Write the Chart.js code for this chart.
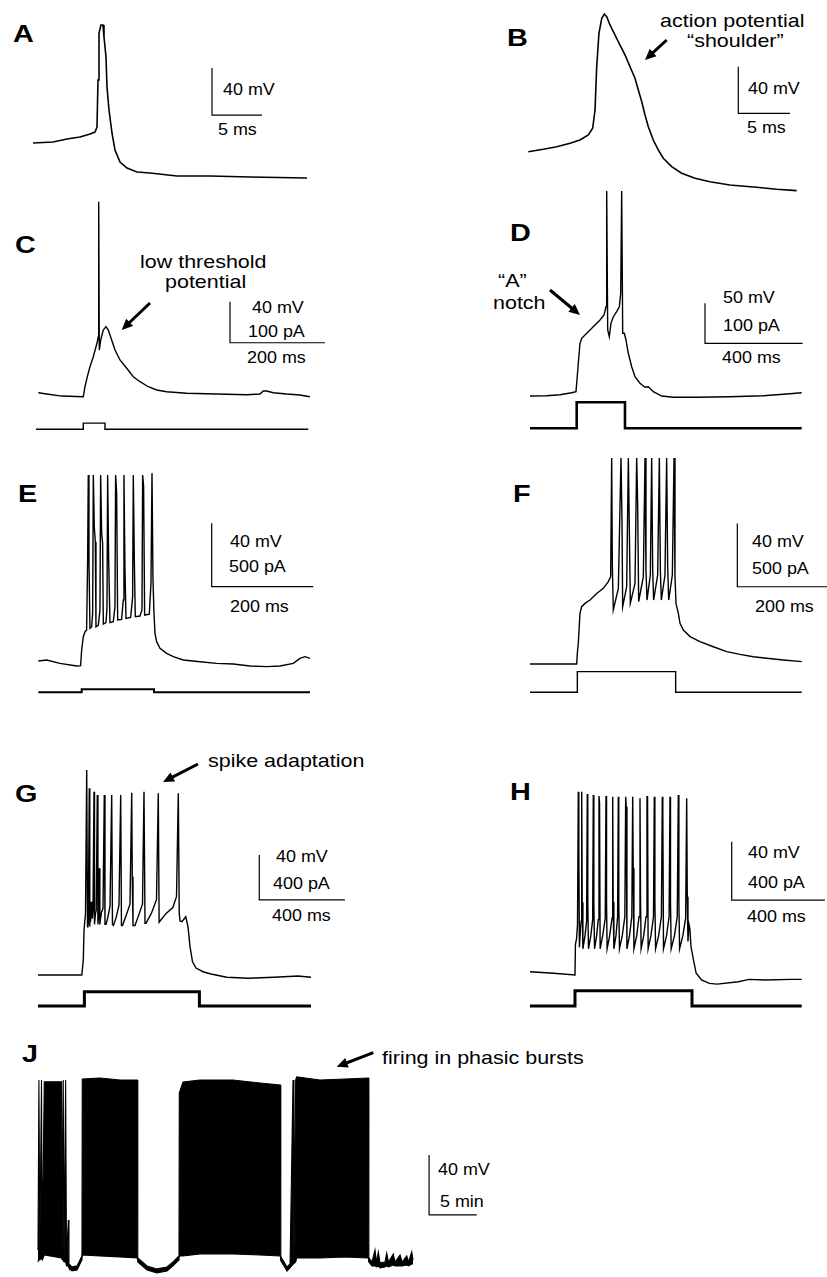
<!DOCTYPE html>
<html><head><meta charset="utf-8">
<script src="https://cdn.jsdelivr.net/npm/chart.js@4.4.0/dist/chart.umd.min.js"></script>
<style>
html,body{margin:0;padding:0;background:#fff;}
#page{position:relative;width:827px;height:1277px;overflow:hidden;background:#fff;}
canvas{position:absolute;}
.t{position:absolute;font-family:"Liberation Sans",Arial,Helvetica,sans-serif;color:#000;white-space:nowrap;transform-origin:0 50%;line-height:1;}
.s{font-size:16px;transform:scaleX(1.12);}
.a{font-size:19px;transform:scaleX(1.13);}
.p{font-size:24px;font-weight:bold;transform:scaleX(1.2);}
#arr{position:absolute;left:0;top:0;}
</style></head><body><div id="page">
<svg id="arr" width="827" height="1277"></svg>
<div class="t p" style="left:13px;top:21.5px">A</div>
<div class="t s" style="left:223px;top:82.2px">40 mV</div>
<div class="t s" style="left:218px;top:122.2px">5 ms</div>
<div class="t p" style="left:507px;top:26.2px">B</div>
<div class="t a" style="left:660px;top:11.2px">action potential</div>
<div class="t a" style="left:687px;top:30.6px">“shoulder”</div>
<div class="t s" style="left:748px;top:81.2px">40 mV</div>
<div class="t s" style="left:747px;top:120.2px">5 ms</div>
<div class="t p" style="left:15px;top:233.2px">C</div>
<div class="t a" style="left:140px;top:252.2px">low threshold</div>
<div class="t a" style="left:165px;top:272.2px">potential</div>
<div class="t s" style="left:252px;top:300.2px">40 mV</div>
<div class="t s" style="left:248px;top:324.2px">100 pA</div>
<div class="t s" style="left:247px;top:350.2px">200 ms</div>
<div class="t p" style="left:510px;top:220.7px">D</div>
<div class="t a" style="left:498px;top:270.6px">“A”</div>
<div class="t a" style="left:493px;top:293.2px">notch</div>
<div class="t s" style="left:723px;top:290.2px">50 mV</div>
<div class="t s" style="left:723px;top:318.2px">100 pA</div>
<div class="t s" style="left:722px;top:350.2px">400 ms</div>
<div class="t p" style="left:18px;top:481.7px">E</div>
<div class="t s" style="left:230px;top:533.9px">40 mV</div>
<div class="t s" style="left:229px;top:558.9px">500 pA</div>
<div class="t s" style="left:230px;top:598.9px">200 ms</div>
<div class="t p" style="left:513px;top:481.7px">F</div>
<div class="t s" style="left:751.7px;top:533.9px">40 mV</div>
<div class="t s" style="left:751.7px;top:560.5px">500 pA</div>
<div class="t s" style="left:755px;top:598.9px">200 ms</div>
<div class="t p" style="left:15px;top:781.7px">G</div>
<div class="t a" style="left:208px;top:751.2px">spike adaptation</div>
<div class="t s" style="left:276px;top:848.9px">40 mV</div>
<div class="t s" style="left:273px;top:876.2px">400 pA</div>
<div class="t s" style="left:272px;top:908.2px">400 ms</div>
<div class="t p" style="left:510px;top:779.7px">H</div>
<div class="t s" style="left:748px;top:845.2px">40 mV</div>
<div class="t s" style="left:748px;top:875.2px">400 pA</div>
<div class="t s" style="left:747px;top:908.9px">400 ms</div>
<div class="t p" style="left:22px;top:1042.2px">J</div>
<div class="t a" style="left:382px;top:1047.9px">firing in phasic bursts</div>
<div class="t s" style="left:438px;top:1162.2px">40 mV</div>
<div class="t s" style="left:440px;top:1193.9px">5 min</div>
</div>
<script>
// ---------------- DATA (time in ms, or min for J; voltage in mV; current in pA) ----------------
const tA = [0,2.0,3.4,4.7,5.7,6.2,6.4,6.5,6.6,6.8,7.0,7.1,7.3,7.4,7.6,7.9,8.2,8.7,9.4,10.4,11.7,14.4,17.7,21.7,27.4];
const vA = [-36.9,-36.1,-33.5,-31.8,-29.3,-27.6,-23.3,16.7,56.7,63.5,63.5,53.3,36.3,10.7,-8.8,-28.4,-42.9,-53.1,-58.2,-61.6,-62.4,-65,-65,-65.9,-66.7];
const barA = [5, 40];

const tB = [0,1.45,2.75,4.04,5.0,5.81,6.23,6.46,6.62,6.84,7.11,7.36,7.59,7.91,8.39,8.88,9.36,9.85,10.33,10.65,10.98,11.30,11.62,12.10,12.58,13.07,13.88,14.85,16.14,17.59,19.51,22.10,24.05,25.98];
const vB = [-39.3,-37.2,-35.0,-32.1,-29.3,-25.0,-19.2,-3.6,33.5,62.2,75.0,78.7,76.4,69.3,60.7,52.1,43.6,33.5,23.6,13.6,3.6,-7.8,-17.9,-29.3,-37.8,-44.9,-52.1,-57.8,-62.1,-65,-67.8,-69.8,-71.5,-72.7];
const barB = [5, 40];

const tC = [0,17.7,49.3,94.7,98.3,103.2,108.8,115.8,121.5,124.2,126.3,127.2,128.4,131.4,136.8,142.5,147.4,154.5,161.5,172.0,186.1,200.0,214.1,231.6,249.3,270.3,312.4,375.6,438.7,466.7,473.7,480.8,494.7,522.9,550.9,572.0];
const vC = [-63.7,-65,-67.0,-67.6,-57.9,-48.1,-38.4,-28.6,-18.9,-14.0,-9.1,122.6,-22.1,-12.3,-2.6,0.7,-2.6,-12.3,-22.1,-31.8,-39.9,-48.1,-53.0,-57.9,-61.1,-62.8,-64.3,-65,-65.7,-65,-62.1,-62.1,-63.7,-65,-66.0,-67.6];
const tiC = [-4.8,94.7,94.7,140.4,140.4,568.4];
const iC = [0,0,15,15,0,0];
const barC = [200, 40];

const tD = [0,68.4,123.0,170.9,188.5,191.4,198.0,204.9,211.9,225.4,245.9,266.4,286.9,303.3,311.5,314.3,318.4,325.0,332.0,341.4,355.3,366.0,371.7,375.8,379.9,386.5,393.4,402.9,416.8,430.3,450.8,471.3,484.8,505.3,539.8,587.3,683.2,819.7,956.1,1052.0,1113.5];
const vD = [-65,-64.6,-63.4,-60.9,-59.6,-49.1,-24.1,0.9,7.1,11.3,17.5,23.8,30.0,36.3,46.6,191.3,17.5,9.1,25.9,34.1,40.4,46.6,63.4,191.3,13.4,13.4,5.0,-11.6,-28.4,-40.9,-49.1,-54.1,-53.4,-59.6,-65,-66.6,-66.6,-65.9,-64.6,-62.5,-60.9];
const tiD = [0,191.4,191.4,389.3,389.3,1113.5];
const iD = [0,0,65,65,0,0];
const barD = [400, 50];

const tE = [0,16.4,42.7,75.5,83.3,85.3,88.6,91.9,95.1,97.1,
  98.4,99.7,101.7,105.0,107.0,108.3,110.2,112.2,113.5,118.1,
  121.4,122.7,124.7,126.6,128.0,133.2,135.2,136.5,138.5,141.1,
  147.6,150.9,152.2,154.2,156.2,164.0,167.3,168.6,170.6,172.6,
  181.8,185.7,187.0,189.0,190.9,200.1,204.1,205.4,207.3,209.3,
  218.5,221.8,223.8,225.7,227.7,229.7,232.9,239.5,252.6,265.7,
  285.4,318.2,351.0,383.9,416.7,449.5,475.7,502.0,515.1,524.9,534.8];
const vE = [-61.8,-61.2,-63.3,-65,-64.8,-54.9,-46.5,-43.3,-42.3,1.9,
  55.6,1.9,-41.2,-40.2,-31.7,55.6,23.0,13.5,-40.2,-39.1,
  -29.6,55.6,18.8,12.5,-38.5,-37.6,-28.6,55.6,1.9,-37.6,
  -37.0,-27.5,55.6,44.1,-35.9,-35.5,-23.3,55.6,-4.4,-34.9,
  -34.3,-21.2,55.6,1.9,-33.8,-33.4,-29.6,55.6,48.3,-32.8,
  -32.2,-12.8,56.7,-9.6,-31.7,-44.4,-49.6,-53.8,-57.0,-59.1,
  -61.2,-62.3,-63.3,-63.7,-65,-65.4,-65,-63.3,-60.2,-59.1,-60.2];
const tiE = [0,85.4,85.4,227.8,227.8,534.8];
const iE = [0,0,24,24,0,0];
const barE = [200, 40];

const tF = [0,91.9,93.2,95.1,98.4,101.7,108.3,118.1,131.2,144.4,
  154.2,158.8,160.8,162.1,164.0,173.9,179.1,181.1,182.4,190.3,
  193.6,195.5,197.5,206.7,210.0,211.9,213.9,223.1,226.4,228.3,
  230.3,236.9,239.5,241.5,243.4,251.3,254.6,256.6,258.5,265.7,
  269.0,271.0,273.0,280.2,283.5,285.4,287.4,292.0,295.3,301.8,
  315.0,334.6,360.9,387.1,413.4,439.6,465.9,498.7,534.8];
const vF = [-65,-65,-58.3,-51.9,-33.0,-28.8,-26.7,-24.6,-20.4,-17.2,
  -13.0,-9.8,65.1,-3.5,-30.9,-17.2,65.1,25.9,-28.8,-16.2,
  65.1,21.7,-26.7,-14.1,65.1,36.5,-25.6,-9.8,65.1,-5.6,
  -24.6,-8.8,65.1,-5.6,-24.6,-8.8,65.1,-5.6,-24.6,-8.8,
  65.1,-3.5,-24.6,-8.8,65.1,-9.8,-26.7,-33.0,-39.3,-43.5,
  -47.7,-50.9,-54.1,-57.2,-58.9,-60.4,-61.4,-62.5,-63.5];
const tiF = [0,93.2,93.2,286.7,286.7,534.8];
const iF = [0,0,163,163,0,0];
const barF = [200, 40];

const tG = [0,204.7,211.7,215,222,227.6,231.3,233.5,235,239.7,
  242,243.5,245.3,250.9,254,257,261.7,264,268.7,272,
  277.1,280,283,286.4,289,292.1,297,303.7,309.8,313,
  317.8,325,336.4,344.4,348,352.8,365,378.5,386.4,390,
  394.9,410,429.9,437.9,440.5,443.9,453.3,470,488.3,495.3,
  500,504.7,530,553.7,562.1,566,570.1,600,630,647.2,
  655.6,660,663.6,672.9,690.2,700.9,710.3,722,738.3,771,
  808.4,882.2,981.3,1102.8,1214.9,1275.7];
const vG = [-65,-65,-51.7,-25,-10,117.2,-22.1,4.6,-20,101.0,
  -22,0,-18,0,-15,-8,97.9,-20,-10,-8,
  95.0,-20,-12,29.8,-20,-15,-9,-6,95.0,-20,
  -20,-15,-4,95.0,-20,-21,-14,-3,95.0,-21,
  -21,-13,-2,97.0,22.4,-21,-21,-12,-2,97.9,
  -19,-19,-10,2,96.5,-18,-17,-10,-5,4.6,
  96.5,-10,-17,-17.6,-13.2,-22.1,-39.8,-53.2,-58.8,-62.1,
  -64.1,-67.0,-67.9,-67.0,-65.9,-67.0];
const tiG = [0,216.8,216.8,754.2,754.2,1275.7];
const iG = [0,0,127,127,0,0];
const barG = [400, 40];

const tH = [0,102,193.1,195,200,204,
  207.3,209.5,212,216,219.5,
  221.9,224,227,236,243,
  245.9,248,251,261,269,
  271.7,274,277,286,293,
  296.1,298.5,301,312,323,
  326.2,328.5,331,342,352,
  354.9,357,360,369,376,
  379,381,384,396,407,
  410.7,413,416,427,437,
  440.8,443,446,458,468,
  472.1,474.5,477,488,498,
  502.1,504.5,507,519,530,
  533.5,536,539,552,564,
  567.8,570,573,586,597,
  600.9,603,606,620,632,
  636.5,639,642,656,668,
  672.5,675,678,682,686,
  691.0,701.7,713.3,736.1,770.0,803.9,894.4,939.9,1007.7,1120.6,1166.1];
const vH = [-62.7,-63.8,-65,-44,-40,-30,
  60.7,21.9,-46,-35,-28,
  60.7,-15,-47,-38,-28,
  59.1,-15,-47,-38,-27,
  58.5,-15,-47,-38,-27,
  57.8,52.8,-47,-38,-26,
  57.8,-15,-47,-38,-26,
  57.3,-15,-47,-38,-25,
  57.3,-15,-47,-38,-25,
  57.3,50.4,-47,-38,-25,
  57.3,8.2,-47,-38,-25,
  56.2,-15,-47,-38,-25,
  57.3,57.3,-47,-38,-25,
  57.3,-15,-47,-38,-25,
  57.3,47.0,-47,-38,-25,
  57.3,-15,-47,-38,-25,
  58.5,-15,-47,-38,-26,
  56.2,-11.3,-42,-30,-33,
  -45.6,-54.7,-63.8,-68.4,-70.7,-71.2,-69.6,-68.0,-68.4,-68.0,-68.0];
const tiH = [0,193.1,193.1,695.3,695.3,1166.1];
const iH = [0,0,105,105,0,0];
const barH = [400, 40];

// J: time in minutes, upper and lower envelope of the voltage trace (mV)
const tJ = [0,0.10,0.19,0.37,0.45,0.66,2.48,2.54,2.65,2.73,
  2.90,2.99,3.18,3.25,3.56,4.09,4.40,4.61,4.64,6.50,
  8.60,10.41,10.46,11.43,12.47,13.52,14.15,14.78,14.81,15.20,
  16.98,20.44,23.27,25.40,25.45,25.79,26.10,26.42,26.73,26.83,
  27.01,27.12,29.56,32.18,
  34.62,34.68,35.01,35.32,35.48,35.67,35.85,36.37,36.55,36.74,37.24,37.42,37.95,38.16,38.65,38.84,39.17,39.31];
const upJ = [-54.7,58.7,-54.7,58.7,-54.7,57.5,57.5,-58.7,58.7,-60,
  58.7,-62.7,-34.7,-64,-66,-65.3,-61.3,-58.7,59.3,60,
  58.7,58.7,-60,-65.3,-67.3,-66,-62.7,-58.7,50,57.3,
  58.7,58.7,56.7,55.3,-59.3,-62.7,-66,-64,58.7,-61.3,
  58.7,60.7,58.7,59.3,
  60.0,-60,-62.7,-54.7,-62.7,-56.0,-63.3,-62.7,-56.7,-62.7,-57.3,-62.7,-58.0,-62.7,-58.7,-62.7,-56.0,-61.3];
const loJ = [-62.7,-60,-61.3,-60,-61.3,-58,-60,-61.3,-61.3,-62.7,
  -62.7,-65.3,-65.3,-66.7,-68.7,-68,-64,-61.3,-58,-58.7,
  -59.3,-60,-62.7,-68,-70,-68.7,-65.3,-61.3,-58.7,-58.7,
  -57.3,-57.3,-58,-58.7,-62,-65.3,-68.7,-66.7,-64,-64,
  -62.7,-60,-60,-59.3,
  -60,-62.7,-65.3,-65.3,-66.0,-65.3,-66.7,-66.0,-65.3,-66.0,-64.7,-65.3,-65.3,-65.3,-64.7,-65.3,-64.0,-64.0];
const barJ = [5, 40];

// ---------------- LAYOUT (canvas boxes, axis ranges, scale-bar anchors) ----------------
const layout = {
  A:{box:[0,0,330,190], x:[-3.3,29.7], v:[-76.9,84.8], anchor:[17.9,-13.1]},
  B:{box:[490,0,337,200], x:[-3.71,28.92], v:[-80.7,90.7], anchor:[20.33,-6.4]},
  C:{box:[0,190,330,260], x:[-80.6,614.1], v:[-119.6,134.0], i:[-50.5,583.7], anchor:[403.6,-15.0]},
  D:{box:[480,185,347,265], x:[-204.9,1217.2], v:[-132.5,198.75], i:[-54.25,608.25], anchor:[717.2,0.9]},
  E:{box:[0,460,330,245], x:[-75.4,574.2], v:[-89.6,65.1], i:[-100.2,1833.5], anchor:[341.3,-14.9]},
  F:{box:[490,450,337,255], x:[-78.7,584.6], v:[-90.9,70.2], i:[-100.2,1912.4], anchor:[408.1,-16.2]},
  G:{box:[0,740,400,290], x:[-177.6,1691.6], v:[-113.9,143.9], i:[-213.3,2364.4], anchor:[1034.1,1.7]},
  H:{box:[480,760,347,270], x:[-214.6,1274.7], v:[-102.7,82.5], i:[-164.4,1684.9], anchor:[865.7,-13.6]},
  J:{box:[0,1030,620,247], x:[-3.98,61.0], v:[-72.7,92.0], anchor:[40.99,-31.3]}
};

function pts(t, v){ return t.map((x,k)=>({x:x, y:v[k]})); }
function line(data, o){
  return Object.assign({data:data, borderColor:'#000', backgroundColor:'#000', borderWidth:1.4, fill:false,
    clip:false, pointRadius:0, tension:0, yAxisID:'y', borderJoinStyle:'miter'}, o||{});
}
function scaleBar(anchor, size){
  const t=anchor[0], v=anchor[1];
  return line([{x:t,y:v+size[1]},{x:t,y:v},{x:t+size[0],y:v}], {borderWidth:1.2});
}
function panel(key, datasets){
  const L = layout[key];
  const c = document.createElement('canvas');
  c.width = L.box[2]; c.height = L.box[3];
  c.style.left = L.box[0]+'px'; c.style.top = L.box[1]+'px';
  c.style.width = L.box[2]+'px'; c.style.height = L.box[3]+'px';
  document.getElementById('page').appendChild(c);
  const scales = {
    x:{type:'linear', display:false, min:L.x[0], max:L.x[1]},
    y:{type:'linear', display:false, min:L.v[0], max:L.v[1]}
  };
  if (L.i) scales.i = {type:'linear', display:false, position:'right', min:L.i[0], max:L.i[1]};
  new Chart(c, {type:'line', data:{datasets:datasets}, options:{
    responsive:false, animation:false, devicePixelRatio:1, events:[],
    layout:{padding:0},
    plugins:{legend:{display:false}, tooltip:{enabled:false}},
    elements:{point:{radius:0}, line:{tension:0}},
    scales:scales}});
}

panel('A', [line(pts(tA,vA),{borderWidth:1.6}), scaleBar(layout.A.anchor, barA)]);
panel('B', [line(pts(tB,vB),{borderWidth:1.6}), scaleBar(layout.B.anchor, barB)]);
panel('C', [line(pts(tC,vC)), line(pts(tiC,iC),{yAxisID:'i'}), scaleBar(layout.C.anchor, barC)]);
panel('D', [line(pts(tD,vD)), line(pts(tiD,iD),{yAxisID:'i', borderWidth:2.6}), scaleBar(layout.D.anchor, barD)]);
panel('E', [line(pts(tE,vE)), line(pts(tiE,iE),{yAxisID:'i', borderWidth:2}), scaleBar(layout.E.anchor, barE)]);
panel('F', [line(pts(tF,vF)), line(pts(tiF,iF),{yAxisID:'i'}), scaleBar(layout.F.anchor, barF)]);
panel('G', [line(pts(tG,vG)), line(pts(tiG,iG),{yAxisID:'i', borderWidth:3}), scaleBar(layout.G.anchor, barG)]);
panel('H', [line(pts(tH,vH)), line(pts(tiH,iH),{yAxisID:'i', borderWidth:3}), scaleBar(layout.H.anchor, barH)]);
panel('J', [line(pts(tJ,upJ),{fill:'+1', borderWidth:1.1}), line(pts(tJ,loJ),{borderWidth:1.1}), scaleBar(layout.J.anchor, barJ)]);

// annotation arrows (page pixels)
const arrows = [[666.7,40,645,60],[150,303,121.7,330],[550,290,580,315],[198,764,163,782],[373.3,1052.7,336.7,1066.7]];
const svg = document.getElementById('arr'), NS='http://www.w3.org/2000/svg';
arrows.forEach(a=>{
  const dx=a[2]-a[0], dy=a[3]-a[1], len=Math.hypot(dx,dy), ux=dx/len, uy=dy/len;
  const hl=11, hw=5;
  const bx=a[2]-ux*hl, by=a[3]-uy*hl;
  const ln=document.createElementNS(NS,'line');
  ln.setAttribute('x1',a[0]); ln.setAttribute('y1',a[1]); ln.setAttribute('x2',bx+ux*2); ln.setAttribute('y2',by+uy*2);
  ln.setAttribute('stroke','#000'); ln.setAttribute('stroke-width','3');
  svg.appendChild(ln);
  const p=document.createElementNS(NS,'polygon');
  p.setAttribute('points',[a[2],a[3],bx-uy*hw,by+ux*hw,bx+uy*hw,by-ux*hw].join(','));
  p.setAttribute('fill','#000');
  svg.appendChild(p);
});
</script>
</body></html>
